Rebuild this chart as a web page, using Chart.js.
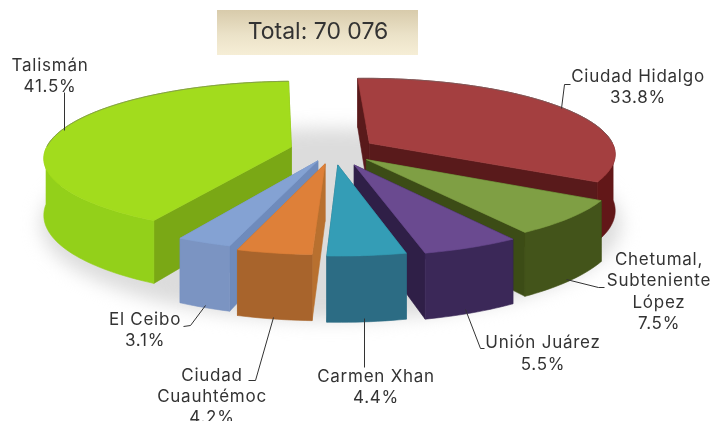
<!DOCTYPE html>
<html><head><meta charset="utf-8">
<style>html,body{margin:0;padding:0;background:#fff}canvas{display:block}</style>
<script src="https://cdn.jsdelivr.net/npm/chart.js@4"></script>
</head><body><canvas id="c" width="715" height="421"></canvas>
<script>
const categories = ['Ciudad Hidalgo','Chetumal, Subteniente López','Unión Juárez','Carmen Xhan','Ciudad Cuauhtémoc','El Ceibo','Talismán'];
const values = [33.8,7.5,5.5,4.4,4.2,3.1,41.5];
const totalLabel = 'Total: 70 076';
const topColors = ['#a43f40','#7f9f44','#6a4a90','#349db6','#de8039','#84a2d3','#a2dc1d'];
const rimColors = ['#621718','#43541a','#3b2858','#2c6c84','#a8642c','#7b94c2','#93d01a'];
const sideColors = ['#591a1b','#3c4c16','#2f1f47','#2a6a80','#b8702f','#6f8bbc','#7aa815'];
const explode = [43,45,52,48,45,38,43];
const paintOrder = [0,6,1,5,4,2,3];
const labelLines = [['Ciudad Hidalgo','33.8%'],['Chetumal,','Subteniente','López','7.5%'],['Unión Juárez','5.5%'],['Carmen Xhan','4.4%'],['Ciudad','Cuauhtémoc','4.2%'],['El Ceibo','3.1%'],['Talismán','41.5%']];
const labelAt = [[638,77],[659,260],[543,343],[376,377],[212,376],[145,320],[50,66]];
const lineGap = [21,21.3,22,21,21,21,21];
const leaders = [[[561,108],[564,84],[570,84]],[[566,279],[598,287],[604,287]],[[465,309],[480,348],[484,348]],[[364,318],[364,367]],[[273,317],[255,380],[248,380]],[[205,305],[190,325],[183,326]],[[64,130],[64,92]]];
const squash = 0.305, persp = 0.13, depth = 56;

const pie3d = {
  id:'pie3d',
  beforeDatasetDraw(chart,args){
    const ctx = chart.ctx, arcs = args.meta.data;
    const cx = arcs[0].x, cy = arcs[0].y, R = arcs[0].outerRadius;
    const proj = (u,v,down)=>{const w = 1/(1-persp*v/R);
      return [cx+u*w, cy+squash*v*w+(down?depth*w:0)];};
    const fillPoly=(poly,col)=>{ctx.fillStyle=col;ctx.strokeStyle=col;ctx.lineWidth=.6;ctx.beginPath();
      poly.forEach((s,k)=>k?ctx.lineTo(...s):ctx.moveTo(...s));ctx.closePath();ctx.fill();ctx.stroke();};
    const wall=(seq,col)=>{ if(seq.length<2)return;
      const tops=seq.map(p=>proj(p[0],p[1],0)), bots=seq.map(p=>proj(p[0],p[1],1)).reverse();
      fillPoly(tops.concat(bots),col);};
    // floor shadow
    ctx.save();
    ctx.filter='blur(9px)';
    ctx.fillStyle='#dcdcdc';
    ctx.beginPath();ctx.ellipse(cx-2,224,290,96,0,0,Math.PI*2);ctx.fill();
    ctx.restore();
    ctx.save();
    ctx.filter='blur(0.6px)';
    for(const i of paintOrder){
      const el = arcs[i], off = el.options.offset||0;
      const mid=(el.startAngle+el.endAngle)/2, ox=Math.cos(mid)*off, oy=Math.sin(mid)*off;
      const n=Math.max(6,Math.round((el.endAngle-el.startAngle)*40));
      const arc=[];
      for(let k=0;k<=n;k++){const a=el.startAngle+(el.endAngle-el.startAngle)*k/n;
        arc.push([ox+Math.cos(a)*R,oy+Math.sin(a)*R]);}
      const back=arc.filter(p=>p[1]-oy<0), front=arc.filter(p=>p[1]-oy>=0);
      wall(back,rimColors[i]);
      const apex=[ox,oy];
      const faces=[[apex,arc[0]],[arc[n],apex]].sort((a,b)=>(a[0][1]+a[1][1])-(b[0][1]+b[1][1]));
      faces.forEach(f=>wall(f,sideColors[i]));
      wall(front,rimColors[i]);
      fillPoly([proj(ox,oy,0)].concat(arc.map(p=>proj(p[0],p[1],0))),topColors[i]);
      if(back.length>1){ctx.strokeStyle='rgba(110,110,110,.55)';ctx.lineWidth=1;ctx.beginPath();
        back.forEach((p,k)=>{const s=proj(p[0],p[1],0);k?ctx.lineTo(...s):ctx.moveTo(...s);});ctx.stroke();}
    }
    ctx.restore();
    return false;
  },
  afterDraw(chart){
    const ctx=chart.ctx;
    ctx.save();
    const g=ctx.createLinearGradient(0,10,0,55);
    g.addColorStop(0,'#d8cbab');g.addColorStop(.55,'#ebe2c8');g.addColorStop(1,'#f6eed6');
    ctx.fillStyle=g;ctx.fillRect(217,10,201,45);
    ctx.fillStyle='#333';ctx.textAlign='center';ctx.textBaseline='middle';
    ctx.font='23px Inter, sans-serif';
    ctx.fillText(totalLabel,318,32.5);
    ctx.strokeStyle='#333';ctx.lineWidth=1;
    leaders.forEach(l=>{ctx.beginPath();l.forEach((p,k)=>k?ctx.lineTo(p[0]+.5,p[1]+.5):ctx.moveTo(p[0]+.5,p[1]+.5));ctx.stroke();});
    ctx.font='17px Inter, sans-serif';ctx.letterSpacing='0.75px';
    labelLines.forEach((lines,i)=>lines.forEach((t,k)=>ctx.fillText(t,labelAt[i][0],labelAt[i][1]+k*lineGap[i])));
    ctx.restore();
  }
};
new Chart(document.getElementById('c'),{
  type:'pie',
  data:{labels:categories,datasets:[{data:values,backgroundColor:topColors,offset:explode,borderWidth:0}]},
  options:{responsive:false,animation:false,rotation:-2,radius:246,
    layout:{padding:{right:49,bottom:121}},
    plugins:{legend:{display:false},tooltip:{enabled:false}}},
  plugins:[pie3d]
});
</script></body></html>
